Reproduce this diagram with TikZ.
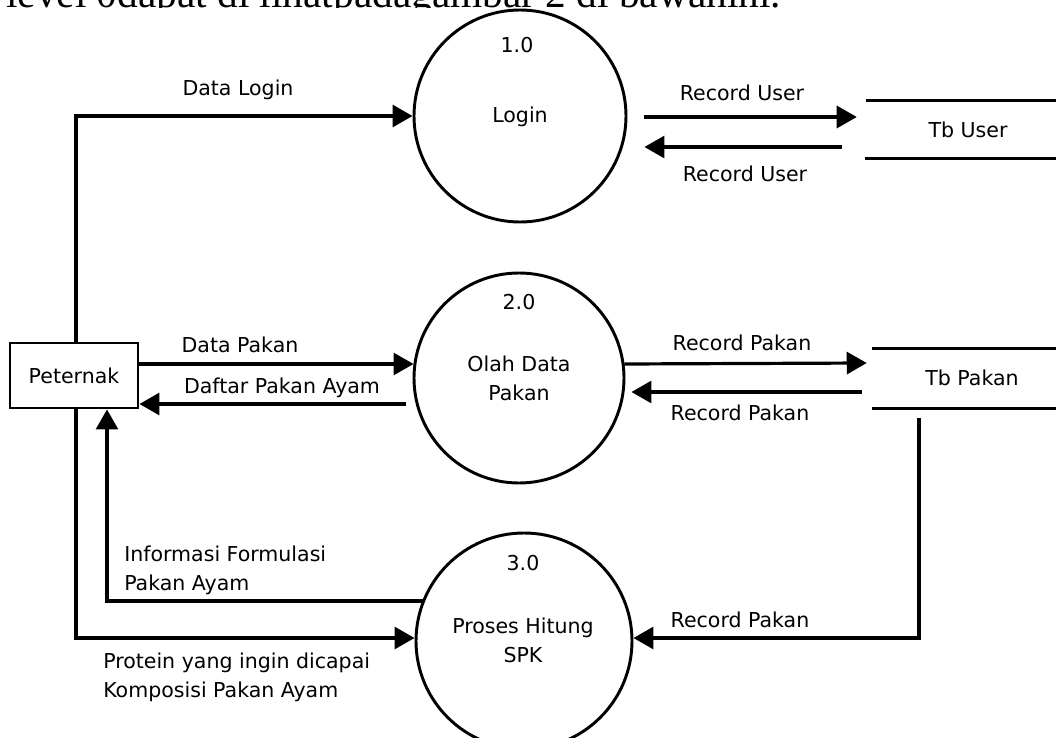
\documentclass[tikz,border=0pt]{standalone}
\usepackage{fontspec}
\setmainfont{DejaVu Sans}
\newfontfamily\serifx{Liberation Serif}
\usetikzlibrary{arrows.meta,calc}
\begin{document}
\begin{tikzpicture}[x=0.75pt,y=-0.75pt,
  lbl/.style={inner sep=0pt, font=\fontsize{15.4pt}{21.75pt}\selectfont},
  proc/.style={circle, draw, line width=2.2pt, minimum size=#1, inner sep=0pt},
  ent/.style={rectangle, draw, line width=2.2pt, minimum width=96pt, minimum height=48.75pt, inner sep=0pt, font=\fontsize{15.4pt}{21.75pt}\selectfont},
  store/.style={inner sep=0pt},
  storeline/.style={line width=2.4pt},
  flow/.style={line width=2.4pt, -{Triangle[length=15pt,width=16.5pt]}},
]
\useasboundingbox (0,0) rectangle (1056,738);
\clip (0,0) rectangle (1056,738);

% cut-off line of text at the top (only its lower sliver shows)
\begin{scope}
\clip (0,0) rectangle (1056,8);
\node[anchor=base west, inner sep=0pt, font=\serifx\fontsize{31pt}{32pt}\selectfont] (intro) at (6,8) {level 0dapat di lihatpadagambar 2 di bawahini.};
\end{scope}

% external entity
\node[ent] (peternak) at (74,375.5) {Peternak};

% processes
\node[proc=159pt] (p1) at (520,116) {};
\node[proc=157.5pt] (p2) at (519,378) {};
\node[proc=162pt] (p3) at (524,641) {};

\node[lbl] (p1num) at (517,45) {1.0};
\node[lbl] (p1txt) at (520,117) {Login};
\node[lbl] (p2num) at (519,302) {2.0};
\node[lbl, align=center] (p2txt) at (519,378) {Olah Data\\Pakan};
\node[lbl] (p3num) at (523,563) {3.0};
\node[lbl, align=center] (p3txt) at (523,640) {Proses Hitung\\SPK};

% data stores
\node[store, minimum width=142.5pt, minimum height=42.75pt] (tbuser) at (961,129.5) {};
\node[lbl] (tbusertxt) at (968,130) {Tb User};
\draw[storeline] (tbuser.north west) -- (tbuser.north east);
\draw[storeline] ($(tbuser.south west)+(-1,0)$) -- (tbuser.south east);

\node[store, minimum width=138pt, minimum height=44.25pt] (tbpakan) at (964,378.5) {};
\node[lbl] (tbpakantxt) at (972,378) {Tb Pakan};
\draw[storeline] (tbpakan.north west) -- (tbpakan.north east);
\draw[storeline] (tbpakan.south west) -- (tbpakan.south east);

% flows
\draw[flow] ($(peternak.north)+(2,0)$) |- (p1);
\node[lbl] (l1) at (238,90) {Data Login};

\draw[flow] ($(p1.east)+(17,1)$) -- ($(tbuser.west)+(-9,-12.5)$);
\node[lbl] (l2) at (742,93) {Record User};
\draw[flow] ($(tbuser.west)+(-24,17.5)$) -- ($(p1.east)+(17,31)$);
\node[lbl] (l3) at (745,174) {Record User};

\draw[flow] ($(peternak.east)+(0,-11.5)$) -- ($(p2.west)+(1,-14)$);
\node[lbl] (l4) at (240,345) {Data Pakan};
\draw[flow] ($(p2.west)+(-7,26)$) -- ($(peternak.east)+(0,28.5)$);
\node[lbl] (l5) at (282,388) {Daftar Pakan Ayam};

\draw[flow] ($(p2.east)+(-1,-14)$) -- ($(tbpakan.west)+(-5,-15.5)$);
\node[lbl] (l6) at (742,343) {Record Pakan};
\draw[flow] ($(tbpakan.west)+(-10,13.5)$) -- ($(p2.east)+(6,14)$);
\node[lbl] (l7) at (740,413) {Record Pakan};

\draw[flow] ($(tbpakan.south)+(-45,10)$) |- ($(p3.east)+(0,-3)$);
\node[lbl] (l8) at (740,620) {Record Pakan};

\draw[flow] ($(peternak.south)+(2,0)$) |- ($(p3.west)+(0,-3)$);
\node[lbl, anchor=west, align=left] (l9) at (103,677.5) {Protein yang ingin dicapai\\Komposisi Pakan Ayam};

\draw[flow] ($(p3.west)+(8,-40)$) -| ($(peternak.south)+(33,0)$);
\node[lbl, anchor=west, align=left] (l10) at (124,570.5) {Informasi Formulasi\\Pakan Ayam};

\end{tikzpicture}
\end{document}
